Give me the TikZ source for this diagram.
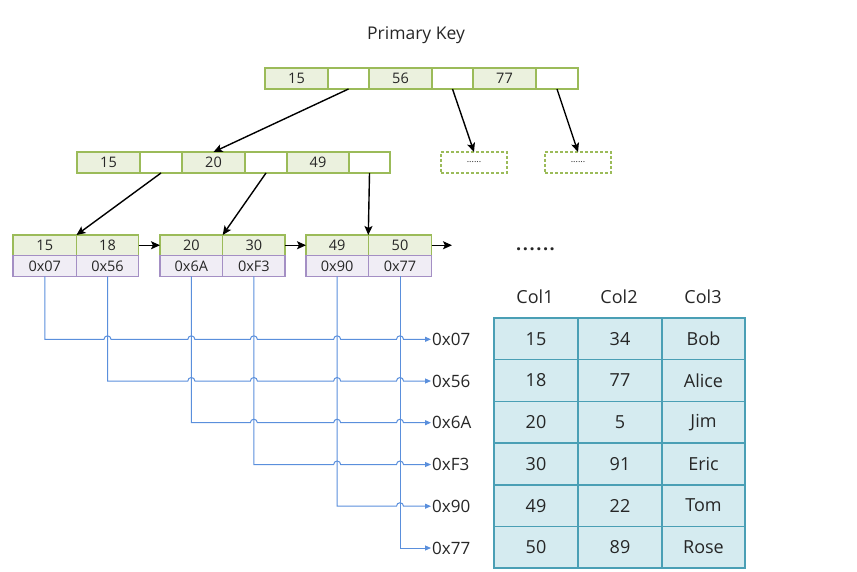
\documentclass[tikz,border=0pt]{standalone}
\usepackage{fontspec}
\setmainfont{Open Sans}
\usetikzlibrary{arrows.meta,calc}
\definecolor{kgreen}{HTML}{9BBB59}
\definecolor{kfill}{HTML}{EBF1DE}
\definecolor{ppur}{HTML}{A48FC4}
\definecolor{pfill}{HTML}{F0EDF5}
\definecolor{wirec}{HTML}{5A8FDC}
\definecolor{tborder}{HTML}{4A9FB5}
\definecolor{tfill}{HTML}{D5EBF0}
\definecolor{ink}{HTML}{262626}
\begin{document}
\begin{tikzpicture}[x=1pt,y=-1pt,
  cellbase/.style={draw, line width=1.5pt, inner sep=0pt, outer sep=0pt,
    anchor=north west, font=\fontsize{14.5}{14.5}\selectfont, text=ink},
  keycell/.style={cellbase, draw=kgreen, fill=kfill, minimum height=21pt},
  gapcell/.style={cellbase, draw=kgreen, fill=white, minimum height=21pt},
  leafkey/.style={cellbase, draw=kgreen, fill=kfill, minimum height=20.5pt},
  ptrcell/.style={cellbase, draw=ppur, fill=pfill, minimum height=21pt},
  dashbox/.style={draw=kgreen, line width=1.5pt, dash pattern=on 3pt off 2pt,
    minimum width=66pt, minimum height=21pt, anchor=north west, inner sep=0pt,
    outer sep=0pt, font=\fontsize{9}{9}\selectfont, text=ink},
  tcell/.style={draw=tborder, fill=tfill, line width=1.5pt, minimum width=84pt,
    minimum height=41.7pt, anchor=north west, inner sep=0pt, outer sep=0pt,
    font=\fontsize{18}{18}\selectfont, text=ink},
  hdr/.style={font=\fontsize{18}{18}\selectfont, text=ink},
  lbl/.style={anchor=west, inner sep=1pt, font=\fontsize{17}{17}\selectfont, text=ink},
  arr/.style={draw=black, line width=1.4pt, -{Stealth[length=9pt,width=8pt,inset=2pt]}},
  wire/.style={draw=wirec, line width=1pt, -{Triangle[length=6pt,width=5pt]}},
  vwire/.style={draw=wirec, line width=1pt}
]
\useasboundingbox (0,0) rectangle (857,572);

\node[font=\fontsize{17.5}{17.5}\selectfont, text=ink] (title) at (416,35) {Primary Key};

% root node
\node[keycell, minimum width=63pt] (t1) at (265,68) {15};
\node[gapcell, minimum width=41pt] (t2) at (328,68) {};
\node[keycell, minimum width=63pt] (t3) at (369,68) {56};
\node[gapcell, minimum width=41pt] (t4) at (432,68) {};
\node[keycell, minimum width=63pt] (t5) at (473,68) {77};
\node[gapcell, minimum width=42pt] (t6) at (536,68) {};

% second level
\node[keycell, minimum width=63pt] (n1) at (77,152) {15};
\node[gapcell, minimum width=42pt] (n2) at (140,152) {};
\node[keycell, minimum width=63pt] (n3) at (182,152) {20};
\node[gapcell, minimum width=42pt] (n4) at (245,152) {};
\node[keycell, minimum width=62pt] (n5) at (287,152) {49};
\node[gapcell, minimum width=41pt] (n6) at (349,152) {};

\node[dashbox] (d1) at (441,152) {......};
\node[dashbox] (d2) at (545,152) {......};

% leaves
\node[leafkey, minimum width=63.5pt] (l1a) at (13,235) {15};
\node[leafkey, minimum width=62pt] (l1b) at (76.5,235) {18};
\node[ptrcell, minimum width=63.5pt] (p1) at (13,255.5) {0x07};
\node[ptrcell, minimum width=62pt] (p2) at (76.5,255.5) {0x56};

\node[leafkey, minimum width=62.7pt] (l2a) at (160,235) {20};
\node[leafkey, minimum width=62.3pt] (l2b) at (222.7,235) {30};
\node[ptrcell, minimum width=62.7pt] (p3) at (160,255.5) {0x6A};
\node[ptrcell, minimum width=62.3pt] (p4) at (222.7,255.5) {0xF3};

\node[leafkey, minimum width=62.3pt] (l3a) at (306,235) {49};
\node[leafkey, minimum width=63.4pt] (l3b) at (368.3,235) {50};
\node[ptrcell, minimum width=62.3pt] (p5) at (306,255.5) {0x90};
\node[ptrcell, minimum width=63.4pt] (p6) at (368.3,255.5) {0x77};

\coordinate (tail) at (452,245.25);
\node[font=\fontsize{18}{18}\selectfont\bfseries, text=ink] (more) at (535.5,249)
  {.\kern1.6pt.\kern1.6pt.\kern1.6pt.\kern1.6pt.\kern1.6pt.};

% tree arrows
\draw[arr] (t2.south) -- (n3.north);
\draw[arr] (t4.south) -- (d1.north);
\draw[arr] (t6.south) -- (d2.north);
\draw[arr] (n2.south) -- (l1a.north east);
\draw[arr] (n4.south) -- (l2a.north east);
\draw[arr] (n6.south) -- (l3a.north east);
\draw[arr] (l1b.east) -- (l2a.west);
\draw[arr] (l2b.east) -- (l3a.west);
\draw[arr] (l3b.east) -- (tail);

% address labels
\node[lbl] (r1) at (431,339.3) {0x07};
\node[lbl] (r2) at (431,381) {0x56};
\node[lbl] (r3) at (431,422.7) {0x6A};
\node[lbl] (r4) at (431,464.5) {0xF3};
\node[lbl] (r5) at (431,506.2) {0x90};
\node[lbl] (r6) at (431,548) {0x77};

% wires
\draw[wire] (p1.south) -- (p1.south |- r1.west)
  foreach \j in {2,...,6} { -- ([xshift=-3.5pt]p\j.south |- r1.west)
    arc[start angle=180,end angle=0,radius=3.5pt] } -- (r1.west);
\draw[wire] (p2.south) -- (p2.south |- r2.west)
  foreach \j in {3,...,6} { -- ([xshift=-3.5pt]p\j.south |- r2.west)
    arc[start angle=180,end angle=0,radius=3.5pt] } -- (r2.west);
\draw[wire] (p3.south) -- (p3.south |- r3.west)
  foreach \j in {4,...,6} { -- ([xshift=-3.5pt]p\j.south |- r3.west)
    arc[start angle=180,end angle=0,radius=3.5pt] } -- (r3.west);
\draw[wire] (p4.south) -- (p4.south |- r4.west)
  foreach \j in {5,6} { -- ([xshift=-3.5pt]p\j.south |- r4.west)
    arc[start angle=180,end angle=0,radius=3.5pt] } -- (r4.west);
\draw[wire] (p5.south) -- (p5.south |- r5.west)
  -- ([xshift=-3.5pt]p6.south |- r5.west)
    arc[start angle=180,end angle=0,radius=3.5pt] -- (r5.west);
\draw[wire] (p6.south) -- (p6.south |- r6.west) -- (r6.west);

% table
\node[hdr] (h1) at (535,297) {Col1};
\node[hdr] (h2) at (619,297) {Col2};
\node[hdr] (h3) at (703,297) {Col3};
\foreach \r/\a/\b/\c [count=\k from 0] in {1/15/34/Bob, 2/18/77/Alice, 3/20/5/Jim,
   4/30/91/Eric, 5/49/22/Tom, 6/50/89/Rose} {
  \node[tcell] (c\r a) at (494,318+41.7*\k) {\a};
  \node[tcell] (c\r b) at (578,318+41.7*\k) {\b};
  \node[tcell, minimum width=83pt] (c\r c) at (662,318+41.7*\k) {\c};
}
\end{tikzpicture}
\end{document}
